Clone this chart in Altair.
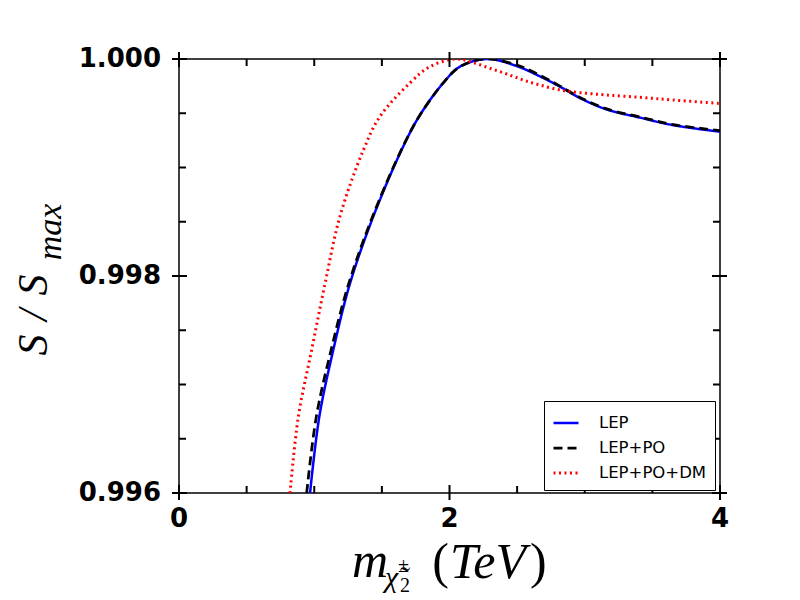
import altair as alt
import pandas as pd

# ---- data ----
names = ["LEP", "LEP+PO", "LEP+PO+DM"]
colors = ["#0000ff", "#000000", "#ff0000"]

lep_m = [0.969, 1.037, 1.141, 1.264, 1.437, 1.645, 1.775, 1.954, 2.078, 2.28,
         2.497, 2.669, 2.817, 2.965, 3.162, 3.408, 3.655, 4.0]
lep_s = [0.99600, 0.99670, 0.99732, 0.99793, 0.99855, 0.99916, 0.99947, 0.99978,
         0.99993, 1.00000, 0.999935, 0.99984, 0.999745, 0.99964, 0.999535,
         0.99946, 0.99939, 0.99933]

po_m = [0.944, 1.015, 1.125, 1.255, 1.432, 1.643, 1.775, 1.954, 2.078, 2.27,
        2.497, 2.669, 2.817, 2.965, 3.162, 3.408, 3.655, 4.0]
po_s = [0.99600, 0.99670, 0.99732, 0.99793, 0.99855, 0.99916, 0.99947, 0.99978,
        0.99993, 1.00000, 0.999945, 0.99985, 0.99975, 0.999645, 0.99954,
        0.999465, 0.999395, 0.99934]

dm_m = [0.821, 0.882, 0.981, 1.080, 1.190, 1.363, 1.486, 1.708, 1.856, 2.05,
        2.176, 2.30, 2.423, 2.546, 2.669, 2.817, 2.965, 3.162, 3.408, 3.655, 4.0]
dm_s = [0.99600, 0.99670, 0.99732, 0.99793, 0.99855, 0.99916, 0.99947, 0.99978,
        0.99993, 1.00000, 0.999966, 0.999914, 0.999862, 0.999806, 0.99976,
        0.999714, 0.99969, 0.999668, 0.999647, 0.999622, 0.99959]

x_major = [0, 2, 4]
x_major_labels = ["0", "2", "4"]
x_minor = [0.5, 1, 1.5, 2.5, 3, 3.5]
y_major = [0.996, 0.998, 1.000]
y_major_labels = ["0.996", "0.998", "1.000"]
y_minor = [0.9965, 0.997, 0.9975, 0.9985, 0.999, 0.9995]

rows = []
for name, ms, ss in [(names[0], lep_m, lep_s), (names[1], po_m, po_s), (names[2], dm_m, dm_s)]:
    for m, s in zip(ms, ss):
        rows.append({"series": name, "m": m, "S": s})
df = pd.DataFrame(rows)

W, H = 541, 434
xs = alt.Scale(domain=[0, 4], nice=False, zero=False)
ys = alt.Scale(domain=[0.996, 1.0], nice=False, zero=False)

leg = alt.Legend(orient="none", legendX=365, legendY=342, title=None,
                 symbolType="stroke", symbolSize=625, symbolStrokeWidth=3,
                 labelFont="DejaVu Sans", labelFontSize=16.5, labelColor="black",
                 labelOffset=19, padding=8, rowPadding=2,
                 strokeColor="black", fillColor="white", cornerRadius=0)

lines = alt.Chart(df).mark_line(interpolate="catmull-rom", clip=True).encode(
    x=alt.X("m:Q", scale=xs, axis=None),
    y=alt.Y("S:Q", scale=ys, axis=None),
    color=alt.Color("series:N", scale=alt.Scale(domain=names, range=colors), legend=leg),
    strokeDash=alt.StrokeDash("series:N",
                              scale=alt.Scale(domain=names, range=[[1, 0], [9, 5], [2, 3.5]]),
                              legend=leg),
    strokeWidth=alt.StrokeWidth("series:N",
                                scale=alt.Scale(domain=names, range=[2.5, 3, 5]),
                                legend=None),
)


def rules_x(vals, y1, y2):
    return alt.Chart(pd.DataFrame({"m": vals})).mark_rule(color="black", strokeWidth=2).encode(
        x=alt.X("m:Q", scale=xs, axis=None), y=alt.value(y1), y2=alt.value(y2))


def rules_y(vals, x1, x2):
    return alt.Chart(pd.DataFrame({"S": vals})).mark_rule(color="black", strokeWidth=2).encode(
        y=alt.Y("S:Q", scale=ys, axis=None), x=alt.value(x1), x2=alt.value(x2))


ticks = [
    rules_x(x_major, H - 8, H + 7), rules_x(x_major, -7, 8),
    rules_x(x_minor, H - 7, H), rules_x(x_minor, 0, 7),
    rules_y(y_major, -7, 8), rules_y(y_major, W - 8, W + 7),
    rules_y(y_minor, 0, 7), rules_y(y_minor, W - 7, W),
]

tick_font = dict(font="DejaVu Sans", fontWeight="bold", fontSize=26, color="black")
x_labels = alt.Chart(pd.DataFrame({"m": x_major, "lab": x_major_labels})).mark_text(
    align="center", baseline="alphabetic", **tick_font).encode(
    x=alt.X("m:Q", scale=xs, axis=None), y=alt.value(H + 34), text="lab:N")
y_labels = alt.Chart(pd.DataFrame({"S": y_major, "lab": y_major_labels})).mark_text(
    align="right", baseline="middle", **tick_font).encode(
    y=alt.Y("S:Q", scale=ys, axis=None), x=alt.value(-18), text="lab:N")


def txt(s, x, y, size, style="italic", angle=0, align="left", font="Liberation Serif"):
    return alt.Chart(pd.DataFrame({"t": [s]})).mark_text(
        font=font, fontSize=size, fontStyle=style, angle=angle, align=align,
        baseline="alphabetic", color="black").encode(
        x=alt.value(x), y=alt.value(y), text="t:N")


ox, oy = 179, 59  # plot origin on the page
texts = [
    # y label  S/S_max
    txt("S", 47 - ox, 345 - oy, 42, angle=270, align="center"),
    txt("/", 47 - ox, 315 - oy, 42, angle=270, align="center"),
    txt("S", 47 - ox, 285 - oy, 42, angle=270, align="center"),
    txt("max", 61 - ox, 232 - oy, 34, angle=270, align="center"),
    # x label  m_{chi~_2^±}(TeV)
    txt("m", 352 - ox, 577 - oy, 50),
    txt("χ̃", 385 - ox, 587 - oy, 30),
    txt("±", 398 - ox, 572 - oy, 20, style="normal"),
    txt("2", 400 - ox, 592 - oy, 20, style="normal"),
    txt("(", 449 - ox, 578 - oy, 50, style="normal", align="right"),
    txt("TeV", 450 - ox, 578 - oy, 50),
    txt(")", 530 - ox, 578 - oy, 50, style="normal"),
]

chart = alt.layer(lines, *ticks, x_labels, y_labels, *texts).properties(
    width=W, height=H,
    padding={"left": ox - 8, "top": oy - 8, "right": 60, "bottom": 105},
    autosize=alt.AutoSizeParams(type="none"),
    background="white",
).configure_view(
    stroke="black", strokeWidth=1.5
)

chart.save("out.html", embed_options={"renderer": "svg", "actions": False})
